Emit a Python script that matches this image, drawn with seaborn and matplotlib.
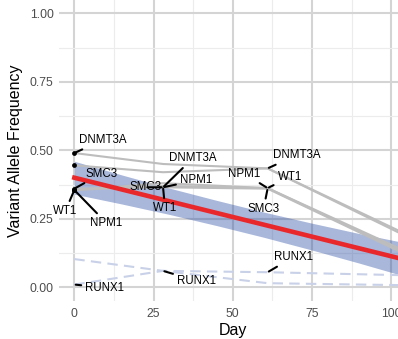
import numpy as np
import pandas as pd
import seaborn as sns
import matplotlib.pyplot as plt

# sampling days and variant allele frequencies
days = [0, 28, 61, 120]
dnmt3a = [0.49, 0.45, 0.434, 0.11]
unlabeled = [0.445, 0.42, 0.434, 0.10]
npm1 = [0.355, 0.38, 0.362, 0.04]
wt1 = [0.355, 0.37, 0.362, 0.05]
smc3 = [0.36, 0.365, 0.36, 0.035]
runx1_a = [0.103, 0.06, 0.055, 0.04]
runx1_b = [0.01, 0.06, 0.015, 0.005]

# fitted clone trend with confidence band
fit_day = [0, 15, 30, 45, 60, 75, 90, 105, 120]
fit_vaf = [0.400, 0.357, 0.314, 0.271, 0.228, 0.185, 0.142, 0.099, 0.056]
fit_lo = [0.340, 0.304, 0.266, 0.225, 0.182, 0.136, 0.088, 0.038, -0.014]
fit_hi = [0.460, 0.410, 0.362, 0.317, 0.274, 0.234, 0.196, 0.161, 0.126]

main = {'DNMT3A': dnmt3a, 'other': unlabeled, 'NPM1': npm1, 'WT1': wt1, 'SMC3': smc3}
minor = {'RUNX1_a': runx1_a, 'RUNX1_b': runx1_b}

df_main = pd.concat([pd.DataFrame({'Day': days, 'VAF': v, 'gene': g}) for g, v in main.items()])
df_minor = pd.concat([pd.DataFrame({'Day': days, 'VAF': v, 'gene': g}) for g, v in minor.items()])
df_fit = pd.DataFrame({'Day': fit_day, 'VAF': fit_vaf, 'lo': fit_lo, 'hi': fit_hi})

plt.rcParams['font.family'] = ['Liberation Sans', 'DejaVu Sans']

fig = plt.figure(figsize=(3.98, 3.39), dpi=100)
ax = fig.add_axes([58.5 / 398, 38 / 339, 348.5 / 398, 301.4 / 339])

ax.set_xlim(-5, 105)
ax.set_ylim(-0.05, 1.05)
ax.set_xticks([0, 25, 50, 75, 100])
ax.set_yticks([0, 0.25, 0.5, 0.75, 1.0])
ax.set_xticks([12.5, 37.5, 62.5, 87.5], minor=True)
ax.set_yticks([0.125, 0.375, 0.625, 0.875], minor=True)
ax.set_yticklabels(['0.00', '0.25', '0.50', '0.75', '1.00'])
ax.grid(which='major', color='#d4d4d4', lw=1.5)
ax.grid(which='minor', color='#ececec', lw=0.8)
ax.set_axisbelow(True)
for s in ax.spines.values():
    s.set_visible(False)
ax.tick_params(which='both', length=0, labelsize=8.8, labelcolor='#4d4d4d')
ax.tick_params(axis='x', pad=5)
ax.tick_params(axis='y', pad=3.5)

sns.lineplot(data=df_main, x='Day', y='VAF', units='gene', estimator=None,
             color='#bdbdbd', lw=1.5, ax=ax, legend=False)
sns.lineplot(data=df_minor, x='Day', y='VAF', units='gene', estimator=None,
             color='#c9d1e8', lw=1.5, dashes=False, ax=ax, legend=False)
for l in ax.lines[-2:]:
    l.set_dashes((5, 3))

ax.fill_between(df_fit['Day'], df_fit['lo'], df_fit['hi'], color='#284ba5', alpha=0.4, lw=0)
sns.lineplot(data=df_fit, x='Day', y='VAF', color='#e8282b', lw=3.3, ax=ax)

day0 = df_main[df_main['Day'] == 0]
sns.scatterplot(data=day0, x='Day', y='VAF', color='black', s=12, lw=0, ax=ax, zorder=5)

# (label, series, day index, dx, dy, ha) offsets in pixels
labels = [
    ('DNMT3A', dnmt3a, 0, 4.5, 13, 'left'),
    ('SMC3', smc3, 0, 11, 15, 'left'),
    ('WT1', wt1, 0, -9, -21, 'center'),
    ('NPM1', npm1, 0, 16, -33, 'left'),
    ('RUNX1', runx1_b, 0, 11, -3, 'left'),
    ('DNMT3A', smc3, 1, 6, 29, 'left'),
    ('SMC3', smc3, 1, -1, 0, 'right'),
    ('NPM1', smc3, 1, 17, 7, 'left'),
    ('WT1', smc3, 1, 2, -21, 'center'),
    ('RUNX1', runx1_b, 1, 14, -10, 'left'),
    ('DNMT3A', dnmt3a, 2, 5, 13, 'left'),
    ('NPM1', npm1, 2, -7, 14.5, 'right'),
    ('WT1', wt1, 2, 10, 11, 'left'),
    ('SMC3', smc3, 2, -4, -20, 'center'),
    ('RUNX1', runx1_a, 2, 6, 15, 'left'),
]
for txt, series, i, dx, dy, ha in labels:
    ax.annotate(txt, xy=(days[i], series[i]), xytext=(dx, dy), textcoords='offset pixels',
                ha=ha, va='center', fontsize=8.3, color='black', zorder=6,
                arrowprops=dict(arrowstyle='-', color='black', lw=1.5, shrinkA=1, shrinkB=1))

ax.set_xlabel('Day', fontsize=11.5, labelpad=2)
ax.set_ylabel('Variant Allele Frequency', fontsize=11.5, labelpad=5)

fig.savefig('out.png', dpi=100)
